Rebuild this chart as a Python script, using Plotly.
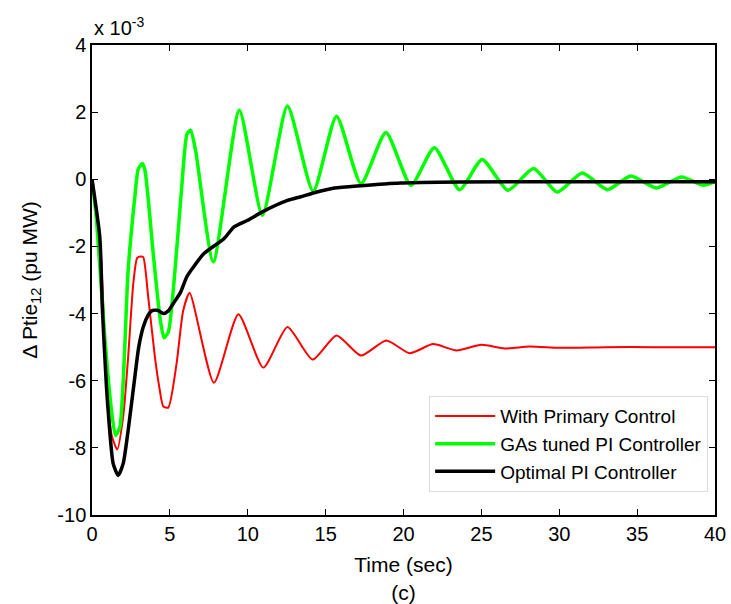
import plotly.graph_objects as go

# ---- data ----
t_red = [0, 0.5, 0.97, 1.25, 1.62, 2.0, 2.32, 2.65, 2.9, 3.12, 3.29, 3.61, 4.04, 4.32, 4.58, 4.9,
         5.43, 5.86, 6.27, 7.83, 9.4, 11.0, 12.55, 14.16, 15.7, 17.27, 18.9, 20.4, 21.9, 23.4,
         25.0, 26.5, 28.1, 30.0, 33.0, 36.0, 40.0]
y_red = [0, -1.75, -6.2, -7.6, -8.05, -7.08, -5.3, -3.11, -2.34, -2.3, -2.32, -3.51, -5.3, -6.19,
         -6.77, -6.8, -5.49, -3.9, -3.39, -6.06, -4.02, -5.61, -4.4, -5.37, -4.65, -5.25, -4.8,
         -5.18, -4.91, -5.1, -4.93, -5.04, -4.98, -5.02, -5.0, -5.0, -5.0]

t_green = [0, 0.29, 0.82, 1.25, 1.51, 1.79, 2.32, 2.75, 2.97, 3.23, 3.4, 3.93, 4.36, 4.62, 4.9,
           5.33, 5.76, 6.1, 6.33, 6.65, 7.79, 9.46, 10.94, 12.55, 14.2, 15.7, 17.27, 18.87,
           20.48, 21.98, 23.6, 25.05, 26.7, 28.35, 29.87, 31.48, 33.09, 34.59, 36.24, 37.85,
           39.24, 40.0]
y_green = [0, -1.22, -4.7, -6.88, -7.63, -7.38, -2.71, -0.53, 0.30, 0.47, 0.27, -2.21, -4.1,
           -4.72, -4.55, -2.71, -0.23, 1.35, 1.46, 0.86, -2.46, 2.06, -1.07, 2.18, -0.36, 1.88,
           -0.13, 1.39, -0.18, 0.94, -0.31, 0.59, -0.33, 0.32, -0.38, 0.19, -0.31, 0.10, -0.26,
           0.07, -0.18, -0.07]

t_black = [0, 0.5, 0.67, 0.93, 1.1, 1.36, 1.68, 2.0, 2.32, 2.75, 3.0, 3.29, 3.6, 3.83, 4.2, 4.58,
           4.9, 5.22, 5.69, 6.08, 6.44, 7.19, 8.47, 9.12, 10.0, 10.94, 12.55, 13.4, 14.27, 15.56,
           17.27, 19.8, 23.6, 30.0, 40.0]
y_black = [0, -1.72, -3.9, -6.19, -7.28, -8.47, -8.82, -8.47, -7.48, -5.89, -5.0, -4.4, -4.05,
           -3.92, -3.9, -4.0, -3.92, -3.7, -3.36, -2.91, -2.66, -2.21, -1.77, -1.42, -1.22, -0.97,
           -0.63, -0.52, -0.40, -0.26, -0.19, -0.11, -0.08, -0.07, -0.07]

names = ["With Primary Control", "GAs tuned PI Controller", "Optimal PI Controller"]
x_ticks = [0, 5, 10, 15, 20, 25, 30, 35, 40]
y_ticks = [-10, -8, -6, -4, -2, 0, 2, 4]

FONT = "Liberation Sans, Arial, sans-serif"

fig = go.Figure()
fig.add_trace(go.Scatter(x=t_red, y=y_red, mode="lines", name=names[0],
                         line=dict(color="#ff0000", width=2, shape="spline", smoothing=0.6)))
fig.add_trace(go.Scatter(x=t_green, y=y_green, mode="lines", name=names[1],
                         line=dict(color="#00ff00", width=3.5, shape="spline", smoothing=0.6)))
fig.add_trace(go.Scatter(x=t_black, y=y_black, mode="lines", name=names[2],
                         line=dict(color="#000000", width=3.5, shape="spline", smoothing=0.6)))

axis_common = dict(showline=True, linecolor="black", linewidth=1.5, mirror="ticks",
                   ticks="inside", ticklen=6, tickwidth=1, tickcolor="black",
                   showgrid=False, zeroline=False, automargin=False,
                   tickfont=dict(family=FONT, size=20, color="black"))

fig.update_xaxes(range=[0, 40], tickvals=x_ticks, ticktext=[str(v) for v in x_ticks],
                 title=dict(text="Time (sec)<br>(c)", font=dict(family=FONT, size=21, color="black"),
                            standoff=14),
                 **axis_common)
fig.update_yaxes(range=[-10, 4], tickvals=y_ticks, ticktext=[str(v) for v in y_ticks],
                 title=dict(text="Δ Ptie<sub>12</sub> (pu MW)",
                            font=dict(family=FONT, size=21, color="black"), standoff=14),
                 **axis_common)

fig.add_annotation(text="x 10<sup>-3</sup>", xref="paper", yref="paper", x=0, y=1,
                   xanchor="left", yanchor="bottom", showarrow=False, yshift=4,
                   font=dict(family=FONT, size=20, color="black"))

fig.update_layout(
    width=731, height=604,
    margin=dict(l=92, r=16, t=45, b=89),
    paper_bgcolor="white", plot_bgcolor="white",
    font=dict(family=FONT, size=20, color="black"),
    legend=dict(x=0.989, y=0.253, xanchor="right", yanchor="top",
                bgcolor="white", bordercolor="#dcdcdc", borderwidth=1,
                font=dict(family=FONT, size=19, color="black"),
                itemwidth=60, tracegroupgap=0),
    showlegend=True,
)

# remove the default page margin so the figure fills the 731x604 window exactly
fig.write_html("out.html",
               config={"displayModeBar": False},
               post_script="document.body.style.margin='0';document.body.style.overflow='hidden';")
